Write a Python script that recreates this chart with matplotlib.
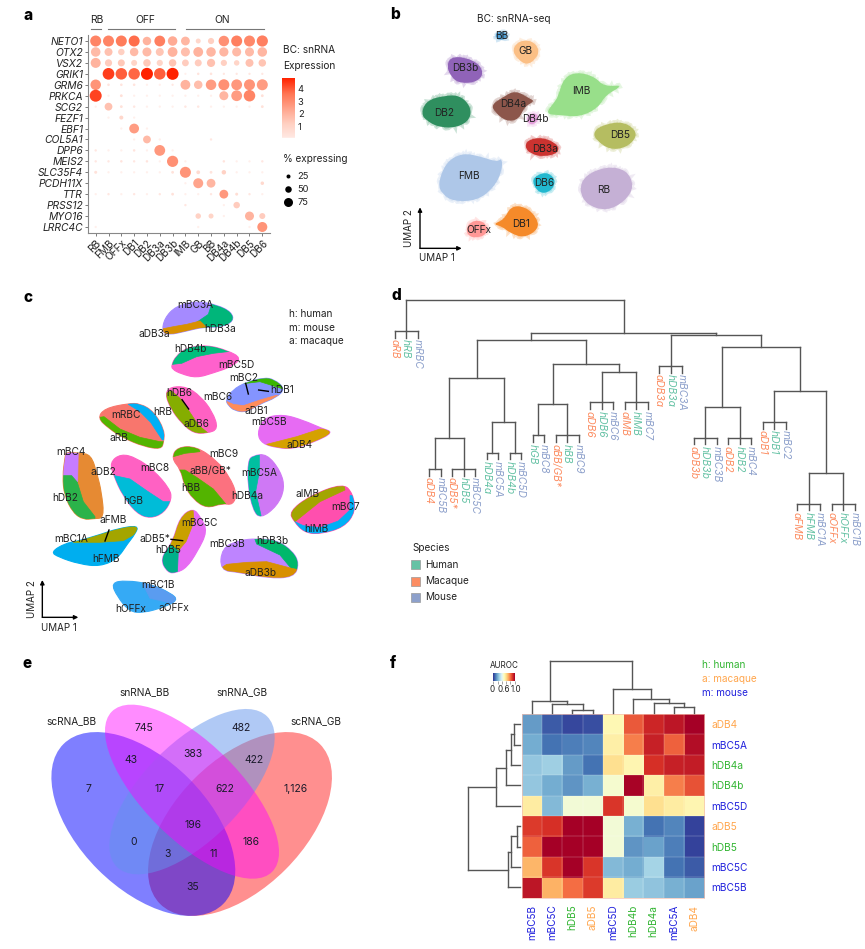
import matplotlib
matplotlib.use("Agg")
import matplotlib.pyplot as plt
import numpy as np
from matplotlib.colors import LinearSegmentedColormap
from matplotlib.patches import Ellipse, Polygon, PathPatch, Rectangle
from matplotlib.path import Path

plt.rcParams['font.family'] = ['Inter', 'DejaVu Sans']

W, H = 865, 949
TXT = '#222222'

# ---- panel a data
cell_types = ['RB', 'FMB', 'OFFx', 'DB1', 'DB2', 'DB3a', 'DB3b', 'IMB', 'GB', 'BB', 'DB4a', 'DB4b', 'DB5', 'DB6']
genes = ['NETO1', 'OTX2', 'VSX2', 'GRIK1', 'GRM6', 'PRKCA', 'SCG2', 'FEZF1', 'EBF1', 'COL5A1', 'DPP6', 'MEIS2',
         'SLC35F4', 'PCDH11X', 'TTR', 'PRSS12', 'MYO16', 'LRRC4C']
expression = [
    [3.2, 3.2, 3.4, 3.7, 2.0, 3.3, 2.2, 1.9, 0.9, 1.2, 2.9, 3.3, 3.1, 3.3],
    [1.8, 1.6, 1.2, 1.8, 1.8, 1.5, 2.0, 1.7, 2.0, 1.9, 1.9, 1.8, 1.8, 1.9],
    [2.0, 1.3, 1.4, 1.0, 1.4, 1.0, 1.5, 1.3, 1.3, 1.6, 1.2, 1.0, 1.6, 1.5],
    [0.0, 4.4, 3.9, 3.8, 4.8, 3.9, 4.8, 0.1, 0.3, 0.3, 0.2, 0.2, 0.2, 0.2],
    [2.8, 0.3, 0.3, 0.3, 0.1, 0.1, 0.2, 2.0, 1.7, 2.6, 2.9, 2.7, 2.8, 2.6],
    [4.3, 0.1, 0.5, 0.1, 0.1, 0.1, 0.1, 0.1, 0.1, 0.1, 1.9, 2.6, 3.2, 0.5],
    [0.1, 1.6, 0.4, 0.2, 0.1, 0.1, 0.1, 0.2, 0.2, 0.1, 0.1, 0.1, 0.1, 0.4],
    [0.0, 0.1, 0.9, 0.1, 0.0, 0.0, 0.0, 0.0, 0.0, 0.0, 0.0, 0.0, 0.0, 0.0],
    [0.0, 0.0, 0.1, 2.6, 0.1, 0.0, 0.0, 0.0, 0.0, 0.0, 0.0, 0.0, 0.0, 0.0],
    [0.0, 0.0, 0.0, 0.1, 1.8, 0.1, 0.0, 0.0, 0.0, 0.2, 0.0, 0.0, 0.0, 0.0],
    [0.2, 0.1, 0.1, 0.3, 0.1, 2.7, 0.1, 0.0, 0.0, 0.0, 0.0, 0.0, 0.0, 0.0],
    [0.2, 0.2, 0.3, 0.2, 0.3, 0.1, 2.9, 0.1, 0.0, 0.0, 0.3, 0.1, 0.1, 0.2],
    [0.4, 0.1, 0.1, 0.1, 0.1, 0.1, 0.4, 2.8, 0.7, 0.3, 1.1, 0.1, 0.1, 0.1],
    [0.0, 0.0, 0.0, 0.0, 0.0, 0.0, 0.0, 0.1, 2.4, 1.9, 0.0, 0.0, 0.0, 0.8],
    [0.1, 0.2, 0.1, 0.2, 0.1, 0.2, 0.4, 0.1, 0.1, 0.2, 2.7, 0.6, 0.2, 0.1],
    [0.0, 0.0, 0.0, 0.0, 0.0, 0.0, 0.0, 0.2, 0.0, 0.0, 0.1, 1.3, 0.0, 0.0],
    [0.0, 0.0, 0.0, 0.0, 0.0, 0.0, 0.0, 0.0, 1.1, 1.0, 0.1, 0.0, 2.0, 1.3],
    [0.1, 0.0, 0.0, 0.0, 0.0, 0.0, 0.0, 0.0, 0.1, 0.0, 0.0, 0.0, 0.1, 2.8],
]
pct_expressing = [
    [90, 90, 90, 90, 65, 88, 75, 68, 30, 42, 85, 90, 90, 92],
    [75, 60, 45, 65, 70, 60, 78, 70, 78, 75, 72, 70, 70, 75],
    [80, 52, 50, 40, 55, 42, 55, 48, 50, 62, 42, 35, 60, 55],
    [0, 97, 95, 95, 100, 95, 100, 2, 5, 6, 3, 3, 3, 3],
    [85, 6, 6, 6, 3, 3, 3, 78, 65, 85, 90, 88, 90, 90],
    [100, 3, 8, 3, 3, 3, 3, 3, 3, 3, 70, 88, 95, 8],
    [3, 58, 8, 5, 3, 3, 3, 5, 5, 3, 3, 3, 3, 8],
    [0, 3, 20, 3, 0, 0, 0, 0, 0, 0, 0, 0, 0, 0],
    [0, 0, 3, 78, 3, 0, 0, 0, 0, 0, 0, 0, 0, 0],
    [0, 0, 0, 3, 58, 3, 0, 0, 0, 4, 0, 0, 0, 0],
    [4, 3, 3, 5, 3, 88, 3, 0, 0, 0, 0, 0, 0, 0],
    [4, 4, 5, 4, 5, 3, 92, 3, 0, 0, 5, 3, 3, 4],
    [10, 3, 3, 3, 3, 3, 8, 90, 18, 8, 25, 3, 3, 3],
    [0, 0, 0, 0, 0, 0, 0, 3, 80, 68, 0, 0, 0, 15],
    [3, 4, 3, 4, 3, 4, 8, 3, 3, 4, 68, 10, 4, 3],
    [0, 0, 0, 0, 0, 0, 0, 4, 0, 0, 3, 45, 0, 0],
    [0, 0, 0, 0, 0, 0, 0, 0, 35, 30, 3, 0, 70, 40],
    [3, 0, 0, 0, 0, 0, 0, 0, 3, 0, 0, 0, 3, 80],
]
size_legend = [25, 50, 75]
expr_ticks = [1, 2, 3, 4]

# ---- panel b clusters, drawn in UMAP units
b_names = ['FMB', 'RB', 'IMB', 'DB2', 'DB1', 'DB3b', 'DB4a', 'DB5', 'GB', 'DB3a', 'DB6', 'OFFx', 'DB4b', 'BB']
b_colors = ['#aec7e8', '#c5b0d5', '#98df8a', '#2f8f5f', '#f58a2a', '#9063b8', '#8c564b', '#b5bd61', '#fbbf85',
            '#cb3330', '#22b8cf', '#ff9896', '#e5a0dc', '#4f9fd5']
b_labels_at = [(266, 528), (670, 571), (604, 272), (191, 340), (424, 673), (256, 204), (401, 311), (719, 405),
               (436, 152), (494, 447), (493, 549), (296, 691), (465, 357), (364, 108)]
b_outlines = [
    [(183, 550), (205, 490), (250, 465), (300, 475), (345, 490), (358, 478), (358, 515), (335, 560), (290, 595), (225, 597), (195, 577)],
    [(605, 570), (620, 530), (680, 505), (735, 515), (755, 560), (730, 600), (680, 627), (625, 610)],
    [(540, 290), (555, 240), (590, 222), (640, 235), (665, 262), (720, 258), (670, 285), (650, 320), (600, 345), (545, 340), (505, 337), (530, 305)],
    [(130, 340), (145, 305), (190, 292), (235, 290), (265, 320), (265, 355), (230, 378), (180, 378), (145, 360)],
    [(345, 672), (375, 660), (395, 622), (435, 625), (465, 655), (470, 685), (430, 710), (390, 695), (370, 678)],
    [(205, 200), (215, 175), (255, 175), (295, 195), (305, 225), (280, 245), (235, 245), (215, 225)],
    [(340, 315), (370, 295), (405, 275), (445, 298), (458, 305), (430, 320), (415, 355), (380, 360), (350, 335)],
    [(645, 400), (665, 380), (720, 368), (755, 385), (765, 410), (735, 440), (690, 445), (655, 420)],
    [(400, 150), (420, 125), (455, 125), (475, 150), (465, 175), (440, 192), (415, 175)],
    [(438, 440), (450, 420), (490, 415), (530, 435), (530, 458), (490, 468), (455, 460)],
    [(458, 545), (475, 525), (505, 520), (525, 545), (510, 572), (480, 578)],
    [(262, 680), (285, 662), (315, 670), (320, 700), (290, 712), (265, 705)],
    [(440, 360), (450, 342), (470, 342), (475, 360), (455, 375)],
    [(348, 100), (362, 96), (380, 100), (378, 116), (360, 119), (350, 114)],
]

# ---- panel c clusters: outline, colour of the main species, then the other species' zones
c_outlines = [
    [(490, 140), (497, 100), (530, 65), (590, 50), (650, 62), (690, 82), (697, 108), (660, 126), (610, 125), (560, 137), (510, 148)],
    [(518, 240), (530, 215), (560, 190), (620, 182), (680, 198), (720, 220), (690, 245), (640, 262), (590, 277), (545, 265), (520, 252)],
    [(680, 345), (700, 315), (740, 293), (790, 280), (820, 285), (852, 312), (825, 338), (780, 355), (740, 380), (705, 375), (688, 360)],
    [(498, 328), (515, 308), (560, 308), (600, 335), (635, 380), (652, 430), (620, 442), (580, 442), (545, 412), (515, 372)],
    [(297, 400), (318, 372), (385, 358), (420, 358), (460, 382), (490, 435), (488, 470), (480, 490), (430, 482), (370, 457), (330, 430)],
    [(197, 520), (200, 505), (235, 508), (272, 512), (290, 570), (302, 620), (310, 695), (280, 697), (250, 700), (220, 680), (195, 630), (190, 575)],
    [(333, 535), (365, 510), (410, 522), (460, 558), (505, 610), (512, 640), (490, 680), (450, 697), (410, 682), (370, 630), (345, 575)],
    [(518, 522), (535, 490), (590, 488), (650, 530), (685, 575), (707, 625), (695, 657), (665, 652), (620, 667), (580, 640), (555, 600), (545, 555)],
    [(746, 530), (760, 515), (800, 510), (840, 560), (852, 610), (830, 660), (782, 697), (760, 672), (745, 600)],
    [(775, 445), (795, 400), (850, 390), (910, 408), (960, 430), (996, 442), (940, 470), (880, 490), (835, 487), (790, 475)],
    [(872, 680), (930, 635), (1027, 598), (1055, 628), (1063, 680), (1030, 725), (960, 745), (915, 740), (885, 708)],
    [(158, 800), (200, 775), (232, 770), (300, 750), (350, 733), (412, 723), (400, 750), (380, 775), (350, 820), (300, 842), (240, 835), (180, 815)],
    [(483, 820), (520, 770), (540, 700), (578, 673), (600, 700), (620, 740), (590, 800), (560, 845), (530, 860), (505, 860)],
    [(665, 855), (670, 790), (720, 768), (770, 763), (830, 768), (875, 800), (893, 835), (878, 875), (800, 877), (720, 860)],
    [(337, 895), (380, 888), (450, 898), (510, 925), (530, 945), (490, 965), (430, 982), (390, 978), (355, 935)],
]
c_main_colors = ['#a58aff', '#ff61cc', '#8494ff', '#ff61c3', '#f8766d', '#e68a33', '#ff61c3', '#fc717f', '#cf78f5',
                 '#e76bf3', '#ff4fae', '#00aeef', '#e76bf3', '#be84ff', '#35aaf5']
c_zones = [
    [('#00b67a', [(640, 40), (720, 60), (720, 140), (615, 140), (590, 112), (625, 88)]),
     ('#d89000', [(470, 160), (470, 135), (520, 125), (560, 118), (600, 108), (618, 125), (620, 170)])],
    [('#00bf7d', [(500, 240), (545, 235), (590, 215), (640, 205), (700, 198), (700, 170), (500, 170)])],
    [('#39b600', [(730, 296), (780, 290), (850, 312), (870, 270), (730, 270)]),
     ('#ff8c5a', [(670, 345), (700, 358), (730, 362), (780, 345), (825, 332), (850, 330), (800, 400), (680, 400)])],
    [('#85ad00', [(480, 330), (515, 318), (540, 340), (565, 375), (595, 420), (625, 445), (600, 460), (480, 440)])],
    [('#00b0f6', [(385, 340), (385, 358), (420, 380), (452, 412), (487, 465), (510, 465), (510, 340)]),
     ('#53b400', [(280, 400), (312, 395), (360, 432), (420, 457), (480, 470), (500, 470), (500, 510), (280, 510)])],
    [('#c77cff', [(180, 490), (235, 490), (233, 590), (215, 572), (180, 572)]),
     ('#2bb34a', [(170, 572), (215, 572), (232, 592), (250, 650), (285, 695), (285, 720), (170, 720)])],
    [('#00bcd8', [(335, 570), (390, 582), (440, 617), (490, 650), (530, 650), (530, 710), (335, 710)])],
    [('#53b400', [(530, 555), (555, 555), (590, 577), (640, 612), (680, 660), (640, 690), (530, 690)]),
     ('#53b400', [(530, 480), (590, 480), (600, 500), (555, 505), (520, 515)])],
    [('#00bfa0', [(730, 510), (778, 510), (778, 560), (767, 620), (785, 700), (730, 700)])],
    [('#d5a100', [(800, 478), (890, 455), (960, 432), (1010, 432), (1010, 500), (800, 500)])],
    [('#a3a500', [(860, 680), (930, 635), (1030, 590), (1035, 615), (960, 650), (885, 710), (860, 710)]),
     ('#00b0f6', [(880, 708), (910, 722), (960, 728), (1015, 708), (1050, 675), (1050, 632), (1080, 632), (1080, 760), (880, 760)])],
    [('#a3a500', [(220, 772), (300, 772), (370, 767), (400, 750), (430, 720), (220, 720)])],
    [('#c9a000', [(500, 770), (540, 690), (578, 660), (582, 710), (558, 770), (535, 797), (510, 800)]),
     ('#00b08a', [(470, 800), (510, 778), (535, 797), (532, 870), (470, 870)])],
    [('#00b86b', [(760, 750), (900, 750), (900, 855), (875, 852), (840, 810), (770, 777)]),
     ('#d89000', [(650, 858), (680, 838), (740, 832), (800, 830), (875, 850), (890, 853), (890, 890), (650, 890)])],
    [('#5a9cf0', [(420, 880), (540, 920), (540, 960), (450, 940)])],
]
c_labels = ['mBC3A', 'hDB3a', 'aDB3a', 'hDB4b', 'mBC5D', 'mBC2', 'hDB1', 'mBC6', 'hDB6', 'aDB1', 'mBC5B', 'aDB6', 'hRB',
            'mRBC', 'aRB', 'aDB4', 'mBC4', 'aDB2', 'mBC8', 'mBC9', 'aBB/GB*', 'mBC5A', 'hDB2', 'hGB', 'hBB', 'hDB4a',
            'aIMB', 'mBC7', 'hIMB', 'aFMB', 'mBC5C', 'mBC1A', 'aDB5*', 'hDB5', 'mBC3B', 'hDB3b', 'hFMB', 'aDB3b',
            'mBC1B', 'hOFFx', 'aOFFx']
c_labels_at = [(586, 59), (659, 131), (464, 148), (570, 193), (708, 240), (730, 278), (846, 314), (652, 336), (538, 325),
               (768, 377), (808, 410), (590, 417), (487, 382), (378, 391), (357, 460), (900, 481), (213, 500), (311, 561),
               (464, 549), (672, 508), (632, 557), (779, 563), (195, 640), (399, 647), (572, 608), (743, 632), (923, 626),
               (1036, 667), (949, 731), (340, 704), (597, 714), (213, 763), (464, 763), (506, 795), (680, 777), (817, 769),
               (319, 822), (781, 865), (475, 901), (391, 973), (521, 970)]
c_leader_lines = [((737, 295), (745, 327)), ((776, 315), (805, 319)), ((546, 344), (566, 372)), ((327, 735), (315, 768)),
                  ((513, 763), (548, 767))]

# ---- panel d tree: (merge height, children), integers are leaves
d_leaves = ['aRB', 'hRB', 'mRBC', 'aDB4', 'mBC5B', 'aDB5*', 'hDB5', 'mBC5C', 'hDB4a', 'mBC5A', 'hDB4b', 'mBC5D', 'hGB',
            'mBC8', 'aBB/GB*', 'hBB', 'mBC9', 'aDB6', 'hDB6', 'mBC6', 'aIMB', 'hIMB', 'mBC7', 'aDB3a', 'hDB3a', 'mBC3A',
            'aDB3b', 'hDB3b', 'mBC3B', 'aDB2', 'hDB2', 'mBC4', 'aDB1', 'hDB1', 'mBC2', 'aFMB', 'hFMB', 'mBC1A', 'aOFFx',
            'hOFFx', 'mBC1B']
d_tree = (100, [
    (85.4, [0, 1, 2]),
    (84.4, [
        (80.9, [
            (63, [
                (34.6, [(20.2, [3, 4]), (20.2, [5, 6, 7])]),
                (42.5, [(27.9, [8, 9]), (27.9, [10, 11])]),
            ]),
            (69.6, [
                (50.7, [(36, [12, 13]), (36, [14, 15, 16])]),
                (66.1, [(51.7, [17, 18, 19]), (51.7, [20, 21, 22])]),
            ]),
        ]),
        (83.3, [
            (68.8, [23, 24, 25]),
            (78, [
                (49.4, [(35, [26, 27, 28]), (35, [29, 30, 31])]),
                (56.9, [
                    (42.4, [32, 33, 34]),
                    (18.3, [(3.8, [35, 36, 37]), (3.8, [38, 39, 40])]),
                ]),
            ]),
        ]),
    ]),
])
species_names = ['Human', 'Macaque', 'Mouse']
species_colors = ['#66c2a5', '#fc8d62', '#8da0cb']

# ---- panel e data
venn_names = ['scRNA_BB', 'snRNA_BB', 'snRNA_GB', 'scRNA_GB']
venn_counts = ['7', '745', '482', '1,126', '43', '383', '422', '17', '622', '196', '0', '186', '3', '11', '35']
venn_counts_at = [(266, 418), (432, 233), (724, 233), (888, 418), (393, 331), (578, 312), (763, 331), (480, 418),
                  (675, 418), (578, 525), (401, 575), (753, 575), (503, 613), (642, 613), (577, 711)]

# ---- panel f data
f_rows = ['aDB4', 'mBC5A', 'hDB4a', 'hDB4b', 'mBC5D', 'aDB5', 'hDB5', 'mBC5C', 'mBC5B']
f_cols = ['mBC5B', 'mBC5C', 'hDB5', 'aDB5', 'mBC5D', 'hDB4b', 'hDB4a', 'mBC5A', 'aDB4']
auroc = [
    [.17, .06, .03, .04, .52, .83, .92, .95, 1.0],
    [.20, .10, .12, .13, .55, .77, .93, .82, .97],
    [.26, .28, .17, .10, .60, .53, .90, .93, .94],
    [.26, .20, .16, .21, .47, .99, .55, .77, .84],
    [.56, .23, .46, .46, .89, .47, .60, .56, .53],
    [.88, .90, 1.0, 1.0, .46, .21, .10, .13, .02],
    [.82, 1.0, 1.0, 1.0, .46, .16, .18, .12, .02],
    [.68, .89, 1.0, .89, .23, .20, .29, .10, .06],
    [.95, .69, .80, .88, .56, .27, .25, .21, .18],
]
f_top_tree = (156, [
    (36, [0, (25, [1, (9, [2, 3])])]),
    (71, [4, (41, [5, (28, [6, (16, [7, 8])])])]),
])
f_left_tree = (157, [
    (73, [(43, [(28, [(18, [0, 1]), 2]), 3]), 4]),
    (37, [(27, [(9, [5, 6]), 7]), 8]),
])
species_text = {'h': '#33b533', 'a': '#ffa64d', 'm': '#2222dd'}


def px_axes(x0, y0, x1, y1):
    # axes from pixel box, y measured from the top of the figure
    ax = fig.add_axes([x0 / W, 1 - y1 / H, (x1 - x0) / W, (y1 - y0) / H])
    return ax


def tree_lines(node, tip):
    # x of the node, its height and the line segments below it; tip() gives a leaf height from its parent's
    h, kids = node
    res = []
    for k in kids:
        if isinstance(k, int):
            res.append((k, tip(h), []))
        else:
            res.append(tree_lines(k, tip))
    segs = [[(res[0][0], h), (res[-1][0], h)]]
    for x, kh, s in res:
        segs.append([(x, h), (x, kh)])
        segs.extend(s)
    return (res[0][0] + res[-1][0]) / 2, h, segs


def draw_tree(ax, tree, tip=lambda h: 0, swap=False, lw=1.0):
    for (xa, ya), (xb, yb) in tree_lines(tree, tip)[2]:
        if swap:
            ax.plot([ya, yb], [xa, xb], color='#555555', lw=lw, solid_capstyle='projecting', clip_on=False)
        else:
            ax.plot([xa, xb], [ya, yb], color='#555555', lw=lw, solid_capstyle='projecting', clip_on=False)


def leaf_parents(node, out):
    h, kids = node
    for k in kids:
        if isinstance(k, int):
            out[k] = h
        else:
            leaf_parents(k, out)
    return out


def smooth_blob(pts, grow=1.07):
    # closed curve through the midpoints of the outline, pushed out a little since the curve cuts corners
    pts = np.array(pts, dtype=float)
    c = pts.mean(axis=0)
    pts = c + (pts - c) * grow
    mids = (pts + np.roll(pts, -1, axis=0)) / 2
    verts = [mids[-1]]
    codes = [Path.MOVETO]
    for p, m in zip(pts, mids):
        verts += [p, m]
        codes += [Path.CURVE3, Path.CURVE3]
    return Path(verts, codes)


def umap_arrows(ax, origin, up, right, lab2, lab1, fs):
    ax.annotate('', xy=up, xytext=origin, arrowprops=dict(arrowstyle='-|>', color='k', lw=1.0, mutation_scale=6, shrinkA=0, shrinkB=0))
    ax.annotate('', xy=right, xytext=origin, arrowprops=dict(arrowstyle='-|>', color='k', lw=1.0, mutation_scale=6, shrinkA=0, shrinkB=0))
    ax.text(lab2[0], lab2[1], 'UMAP 2', rotation=90, ha='center', va='center', fontsize=fs, color=TXT)
    ax.text(lab1[0], lab1[1], 'UMAP 1', ha='center', va='center', fontsize=fs, color=TXT)


fig = plt.figure(figsize=(W / 100, H / 100), dpi=100)

# overlay in figure pixels, for panel letters and free text
ov = fig.add_axes([0, 0, 1, 1], zorder=10)
ov.set_xlim(0, W)
ov.set_ylim(H, 0)
ov.axis('off')
for letter, x, y in [('a', 28, 15), ('b', 395, 14), ('c', 28, 297), ('d', 396, 296), ('e', 27, 663), ('f', 393, 663)]:
    ov.text(x, y, letter, fontsize=11, fontweight='heavy', ha='center', va='center', color='k')

# ---- a: dot plot
exp_cmap = LinearSegmentedColormap.from_list('exp', [(0, '#ffffff'), (0.03, '#ffe8e2'), (0.25, '#ffd0c2'), (0.5, '#ffa48c'), (0.75, '#ff7452'), (1, '#ff2200')])
ax = px_axes(88, 35, 270, 233)
xx, yy = np.meshgrid(np.arange(len(cell_types)), np.arange(len(genes)))
pct = np.array(pct_expressing).ravel()
diam = 2 + 0.1 * pct
diam[pct == 0] = 0
ax.scatter(xx.ravel(), yy.ravel(), s=(diam * 0.72) ** 2, c=np.array(expression).ravel(), cmap=exp_cmap, vmin=0, vmax=4.8, linewidths=0)
ax.set_xlim(-0.6, 13.6)
ax.set_ylim(17.55, -0.55)
ax.set_xticks(range(len(cell_types)))
ax.set_xticklabels(cell_types, rotation=45, ha='right', rotation_mode='anchor', fontsize=7.3, color=TXT)
ax.set_yticks(range(len(genes)))
ax.set_yticklabels(genes, fontsize=7.4, fontstyle='italic', color=TXT)
ax.tick_params(length=2, width=0.6, color='#666666', pad=1.5)
for s in ['top', 'right']:
    ax.spines[s].set_visible(False)
for s in ['left', 'bottom']:
    ax.spines[s].set_color('#888888')
    ax.spines[s].set_linewidth(0.8)

for label, x0, x1, xt in [('RB', 90.7, 101, 96.7), ('OFF', 108.3, 175, 145.7), ('ON', 185.7, 264.3, 222)]:
    ov.plot([x0, x1], [29, 29], color='#777777', lw=0.8)
    ov.text(xt, 20, label, fontsize=7.4, ha='center', va='center', color=TXT)

ov.text(283, 50, 'BC: snRNA', fontsize=7.3, va='center', color=TXT)
ov.text(283, 66, 'Expression', fontsize=7.3, va='center', color=TXT)
cax = px_axes(282, 77, 295, 138)
cax.imshow(np.linspace(4.8, 0, 128).reshape(-1, 1), aspect='auto', cmap=exp_cmap, vmin=0, vmax=4.8, extent=[0, 1, 0, 4.8])
cax.set_xticks([])
cax.yaxis.tick_right()
cax.set_yticks(expr_ticks)
cax.set_ylim(0.1, 4.9)
cax.tick_params(axis='y', length=0, labelsize=6.7, labelcolor=TXT, pad=2)
for s in cax.spines.values():
    s.set_visible(False)
ov.text(283, 159, '% expressing', fontsize=7.2, va='center', color=TXT)
for p, y in zip(size_legend, [176, 189, 202]):
    ov.scatter([288], [y], s=((1.5 + 0.1 * p) * 0.72) ** 2, color='k', linewidths=0)
    ov.text(297, y, str(p), fontsize=6.7, va='center', color=TXT)

# ---- b: UMAP of clusters
ax = px_axes(380, 0, 680, 270)
ax.set_xlim(0, 900)
ax.set_ylim(810, 0)
ax.axis('off')
for outline, col in zip(b_outlines, b_colors):
    blob = smooth_blob(outline, grow=1.1)
    fuzz = PathPatch(blob, facecolor=col, edgecolor=col, lw=2.5, alpha=0.25)
    # point cloud edge, not a clean line
    fuzz.set_sketch_params(scale=1.5, length=4, randomness=8)
    ax.add_patch(fuzz)
    ax.add_patch(PathPatch(blob, facecolor=col, edgecolor='none'))
for name, (x, y) in zip(b_names, b_labels_at):
    ax.text(x, y, name, fontsize=7.3, ha='center', va='center', color=TXT)
ax.text(401, 57, 'BC: snRNA-seq', fontsize=7.2, ha='center', va='center', color=TXT)
umap_arrows(ax, (120, 745), (120, 622), (245, 745), (88, 685), (172, 775), 7)

# ---- c: integrated UMAP
ax = px_axes(0, 285, 380, 635)
ax.set_xlim(0, 1140)
ax.set_ylim(1050, 0)
ax.axis('off')
for outline, col, zones in zip(c_outlines, c_main_colors, c_zones):
    base = PathPatch(smooth_blob(outline, grow=1.04), facecolor=col, edgecolor=col, lw=0.8)
    ax.add_patch(base)
    for zcol, pts in zones:
        z = Polygon(pts, closed=True, facecolor=zcol, edgecolor=zcol, lw=0.5)
        ax.add_patch(z)
        z.set_clip_path(base)
for a, b in c_leader_lines:
    ax.plot([a[0], b[0]], [a[1], b[1]], color='k', lw=1.0)
for name, (x, y) in zip(c_labels, c_labels_at):
    ax.text(x, y, name, fontsize=7.3, ha='center', va='center', color=TXT)
for line, y in zip(['h: human', 'm: mouse', 'a: macaque'], [88, 129, 169]):
    ax.text(866, y, line, fontsize=7.2, va='center', color=TXT)
umap_arrows(ax, (127, 997), (127, 885), (235, 997), (97, 942), (178, 1030), 7)

# ---- d: species dendrogram
ax = px_axes(394.67, 300, 854.67, 511.7)
ax.set_xlim(0, 40)
ax.set_ylim(0, 100)
ax.axis('off')
draw_tree(ax, d_tree, tip=lambda h: h - 3.15)
parents = leaf_parents(d_tree, {})
for i, name in enumerate(d_leaves):
    col = species_colors[0] if name[0] == 'h' else species_colors[1] if name[0] == 'a' else species_colors[2]
    ax.text(i, parents[i] - 3.9, name, rotation=270, ha='center', va='top', fontsize=7.4, fontstyle='italic', color=col, clip_on=False)

ov.text(412, 548, 'Species', fontsize=7.2, va='center', ha='left', color=TXT)
for name, col, y in zip(species_names, species_colors, [564.5, 581, 597.3]):
    ov.add_patch(Rectangle((411, y - 4.5), 9, 9, facecolor=col, edgecolor='#999999', lw=0.5))
    ov.text(425.5, y, name, fontsize=7.2, va='center', color=TXT)

# ---- e: venn
ax = px_axes(0, 650, 400, 949)
ax.set_xlim(0, 1200)
ax.set_ylim(897, 0)
ax.axis('off')
venn_shapes = [
    ((720, 522), 678, 386, -45, (1, 0, 0), 0.44),
    ((430, 522), 678, 386, 45, (0, 0, 1), 0.5),
    ((576, 425), 638, 292, -45, (0.39, 0.58, 0.93), 0.5),
    ((576, 425), 680, 288, 45, (1, 0, 1), 0.45),
]
for center, w, h, ang, col, alpha in venn_shapes:
    ax.add_patch(Ellipse(center, w, h, angle=ang, facecolor=col + (alpha,), edgecolor='none'))
for t, (x, y) in zip(venn_counts, venn_counts_at):
    ax.text(x, y, t, fontsize=7.5, ha='center', va='center', color='#1a1a2a')
for name, (x, y) in zip(venn_names, [(214, 213), (435, 127), (727, 127), (948, 213)]):
    ax.text(x, y, name, fontsize=7.3, ha='center', va='center', color=TXT)

# ---- f: clustered heatmap
ax = px_axes(521.7, 714, 704.3, 897.7)
ax.imshow(np.array(auroc), cmap='RdYlBu_r', vmin=0, vmax=1, aspect='auto')
ax.set_xticks(range(9))
ax.set_xticklabels(f_cols, rotation=90, fontsize=7.2)
ax.set_yticks(range(9))
ax.set_yticklabels(f_rows, fontsize=7.3)
ax.yaxis.tick_right()
ax.tick_params(length=0, pad=5)
for lab in ax.get_xticklabels() + ax.get_yticklabels():
    lab.set_color(species_text[lab.get_text()[0]])
for s in ax.spines.values():
    s.set_color('#f4c0b0')
    s.set_linewidth(0.5)
for i in range(1, 9):
    ax.axvline(i - 0.5, color='white', lw=0.3, alpha=0.5)
    ax.axhline(i - 0.5, color='white', lw=0.3, alpha=0.5)

ax = px_axes(521.7, 660.7, 704.3, 712.7)
ax.set_xlim(-0.5, 8.5)
ax.set_ylim(0, 156)
ax.axis('off')
draw_tree(ax, f_top_tree)

ax = px_axes(467.7, 714, 520, 897.7)
ax.set_xlim(157, 0)
ax.set_ylim(8.5, -0.5)
ax.axis('off')
draw_tree(ax, f_left_tree, swap=True)

cax = px_axes(493.3, 672.7, 514.7, 680.7)
cax.imshow(np.linspace(0, 1, 64).reshape(1, -1), aspect='auto', cmap='RdYlBu_r', extent=[0, 1, 0, 1])
cax.set_yticks([])
cax.set_xticks([0, 0.2, 0.4, 0.6, 0.8, 1.0])
cax.set_xticklabels([])
cax.tick_params(length=2, width=0.4, color='#666666')
for s in cax.spines.values():
    s.set_visible(False)
ov.text(504, 665.5, 'AUROC', fontsize=5.8, ha='center', va='center', color=TXT)
for t, x in [('0', 492), ('0.6', 503.5), ('1.0', 516)]:
    ov.text(x, 690, t, fontsize=5.8, ha='center', va='center', color=TXT)
for t, k, y in [('h: human', 'h', 665.5), ('a: macaque', 'a', 679.3), ('m: mouse', 'm', 692.5)]:
    ov.text(702.5, y, t, fontsize=7.2, va='center', color=species_text[k])

fig.savefig('out.png', dpi=100)
